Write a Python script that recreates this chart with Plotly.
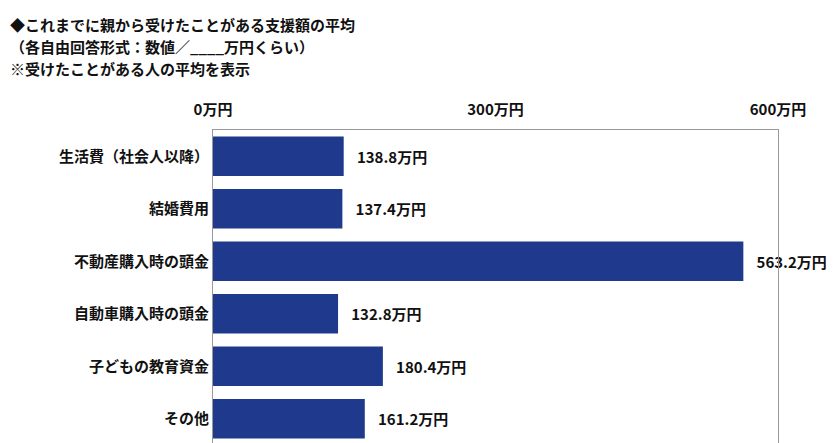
import plotly.graph_objects as go

categories = ["生活費（社会人以降）", "結婚費用", "不動産購入時の頭金", "自動車購入時の頭金", "子どもの教育資金", "その他"]
values = [138.8, 137.4, 563.2, 132.8, 180.4, 161.2]
tick_vals = [0, 300, 600]
tick_text = ["0万円", "300万円", "600万円"]

font = "Noto Sans CJK JP"
fig = go.Figure(go.Bar(
    y=categories, x=values, orientation="h",
    marker=dict(color="#1f3a8c", line=dict(width=0)),
    text=[f"<b>   {v:.1f}万円</b>" for v in values], textposition="outside",
    textfont=dict(size=15, color="#111"), cliponaxis=False,
))
fig.update_layout(
    width=840, height=443, margin=dict(l=205, r=70, t=122, b=6),
    paper_bgcolor="white", plot_bgcolor="white", bargap=0.25, showlegend=False,
    font=dict(family=font, color="#111"),
    xaxis=dict(side="top", range=[0, 600], tickvals=tick_vals, automargin=False,
               ticktext=[f"<b>{t}</b>" for t in tick_text], tickfont=dict(size=15),
               showgrid=False, zeroline=False, showline=True, linecolor="#999", mirror=True,
               ticks="outside", ticklen=8, tickcolor="rgba(0,0,0,0)"),
    yaxis=dict(autorange="reversed", tickfont=dict(size=15), showgrid=False, automargin=False,
               showline=True, linecolor="#999", mirror=True, ticks="", ticksuffix="  ",
               tickvals=categories, ticktext=[f"<b>{c}</b>" for c in categories]),
)
lines = ["◆これまでに親から受けたことがある支援額の平均",
         "（各自由回答形式：数値／____万円くらい）",
         "※受けたことがある人の平均を表示"]
for i, t in enumerate(lines):
    fig.add_annotation(text=f"<b>{t}</b>", xref="paper", yref="paper",
                       x=-205/565, y=1 + (122 - 4 - i * 22) / 315,
                       xanchor="left", yanchor="top", showarrow=False,
                       font=dict(size=15, family=font, color="#111"))
fig.write_html("out.html")
